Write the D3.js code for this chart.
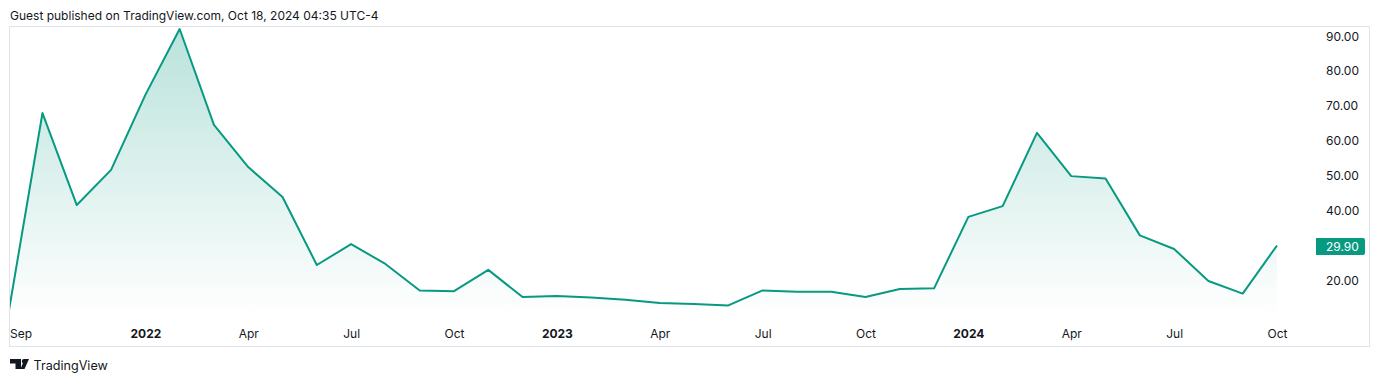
<!DOCTYPE html>
<html>
<head>
<meta charset="utf-8">
<script src="https://cdn.jsdelivr.net/npm/d3@7/dist/d3.min.js"></script>
<style>
  html, body { margin: 0; padding: 0; background: #fff; }
  svg { display: block; font-family: Inter, "Noto Sans", sans-serif; }
</style>
</head>
<body>
<svg id="chart" width="1380" height="382"></svg>
<script>
const months = [
  "2021-09", "2021-10", "2021-11", "2021-12",
  "2022-01", "2022-02", "2022-03", "2022-04", "2022-05", "2022-06",
  "2022-07", "2022-08", "2022-09", "2022-10", "2022-11", "2022-12",
  "2023-01", "2023-02", "2023-03", "2023-04", "2023-05", "2023-06",
  "2023-07", "2023-08", "2023-09", "2023-10", "2023-11", "2023-12",
  "2024-01", "2024-02", "2024-03", "2024-04", "2024-05", "2024-06",
  "2024-07", "2024-08", "2024-09", "2024-10"
];
const values = [
  10.0, 67.9, 41.5, 51.6,
  73.1, 92.0, 64.5, 52.4, 43.8, 24.3,
  30.3, 24.6, 17.0, 16.8, 22.9, 15.1,
  15.4, 15.0, 14.3, 13.4, 13.1, 12.7,
  17.0, 16.6, 16.6, 15.1, 17.4, 17.6,
  38.1, 41.2, 62.2, 49.8, 49.1, 32.8,
  28.9, 19.7, 16.1, 29.9
];
const timeTicks = {
  "2021-09": "Sep", "2022-01": "2022", "2022-04": "Apr", "2022-07": "Jul",
  "2022-10": "Oct", "2023-01": "2023", "2023-04": "Apr", "2023-07": "Jul",
  "2023-10": "Oct", "2024-01": "2024", "2024-04": "Apr", "2024-07": "Jul",
  "2024-10": "Oct"
};
const priceTicks = [20, 40, 50, 60, 70, 80, 90];
const lastValue = values[values.length - 1];

const GREEN = "#089981";
const TEXT = "#131722";
const BORDER = "#e0e3eb";

const svg = d3.select("#chart");

const x = d3.scalePoint().domain(months).range([8.2, 1277]);
const y = d3.scaleLinear().domain([20, 90]).range([280, 36]);
const baseY = 316;

//========== Frame ==========

svg.append("rect")
  .attr("x", 9.5)
  .attr("y", 26.5)
  .attr("width", 1360)
  .attr("height", 320)
  .attr("fill", "none")
  .attr("stroke", BORDER);

svg.append("text")
  .attr("x", 10)
  .attr("y", 20)
  .attr("font-size", 12)
  .attr("fill", TEXT)
  .text("Guest published on TradingView.com, Oct 18, 2024 04:35 UTC-4");

//========== Area and line ==========

const defs = svg.append("defs");
const grad = defs.append("linearGradient")
  .attr("id", "areaFill")
  .attr("gradientUnits", "userSpaceOnUse")
  .attr("x1", 0)
  .attr("x2", 0)
  .attr("y1", y(d3.max(values)))
  .attr("y2", baseY);
grad.append("stop").attr("offset", 0).attr("stop-color", GREEN).attr("stop-opacity", 0.28);
grad.append("stop").attr("offset", 1).attr("stop-color", GREEN).attr("stop-opacity", 0);

// series starts just left of the pane, so it gets cut at the frame
defs.append("clipPath")
  .attr("id", "pane")
  .append("rect")
  .attr("x", 10)
  .attr("y", 27)
  .attr("width", 1300)
  .attr("height", 289);

const rows = months.map((m, i) => ({ month: m, value: values[i] }));
const plot = svg.append("g").attr("clip-path", "url(#pane)");

plot.append("path")
  .datum(rows)
  .attr("fill", "url(#areaFill)")
  .attr("d", d3.area()
    .x(d => x(d.month))
    .y0(baseY)
    .y1(d => y(d.value)));

plot.append("path")
  .datum(rows)
  .attr("fill", "none")
  .attr("stroke", GREEN)
  .attr("stroke-width", 2)
  .attr("stroke-linejoin", "round")
  .attr("d", d3.line()
    .x(d => x(d.month))
    .y(d => y(d.value)));

//========== Axes ==========

const priceAxis = svg.append("g")
  .attr("transform", "translate(1326,0.2)")
  .call(d3.axisRight(y).tickValues(priceTicks).tickSize(0).tickPadding(0).tickFormat(d3.format(".2f")));
priceAxis.select(".domain").remove();
priceAxis.selectAll("text")
  .attr("font-family", "Inter, sans-serif")
  .attr("font-size", 12)
  .attr("fill", TEXT);

const timeAxis = svg.append("g")
  .attr("transform", "translate(0,329)")
  .call(d3.axisBottom(x).tickValues(Object.keys(timeTicks)).tickSize(0).tickPadding(0).tickFormat(d => timeTicks[d]));
timeAxis.select(".domain").remove();
timeAxis.selectAll("text")
  .attr("font-family", "Inter, sans-serif")
  .attr("font-size", 12)
  .attr("font-weight", d => /^\d+$/.test(timeTicks[d]) ? 700 : 400)
  .attr("fill", TEXT);
// first label is pushed inside the pane
timeAxis.selectAll("text")
  .filter(d => d === months[0])
  .attr("text-anchor", "start")
  .attr("dx", 10 - x(months[0]) - 0.5);

// last price tag
const tagY = y(lastValue) + 1;
svg.append("path")
  .attr("d", `M1316 ${tagY - 8.5}h47a2 2 0 0 1 2 2v13a2 2 0 0 1 -2 2h-47z`)
  .attr("fill", GREEN);
svg.append("text")
  .attr("x", 1326)
  .attr("y", tagY)
  .attr("dy", "0.36em")
  .attr("font-size", 12)
  .attr("fill", "#fff")
  .text(lastValue.toFixed(2));

//========== Footer ==========

svg.append("path")
  .attr("transform", "translate(10,359)")
  .attr("fill", TEXT)
  .attr("d", "M0 0h11v10H5.5V4.5H0z M14 4.5a2.2 2.2 0 1 1 0 -4.4a2.2 2.2 0 0 1 0 4.4z M14.5 0h4.5l-4.5 10h-4z");

svg.append("text")
  .attr("x", 33.5)
  .attr("y", 370)
  .attr("font-size", 12.6)
  .attr("fill", TEXT)
  .text("TradingView");
</script>
</body>
</html>
